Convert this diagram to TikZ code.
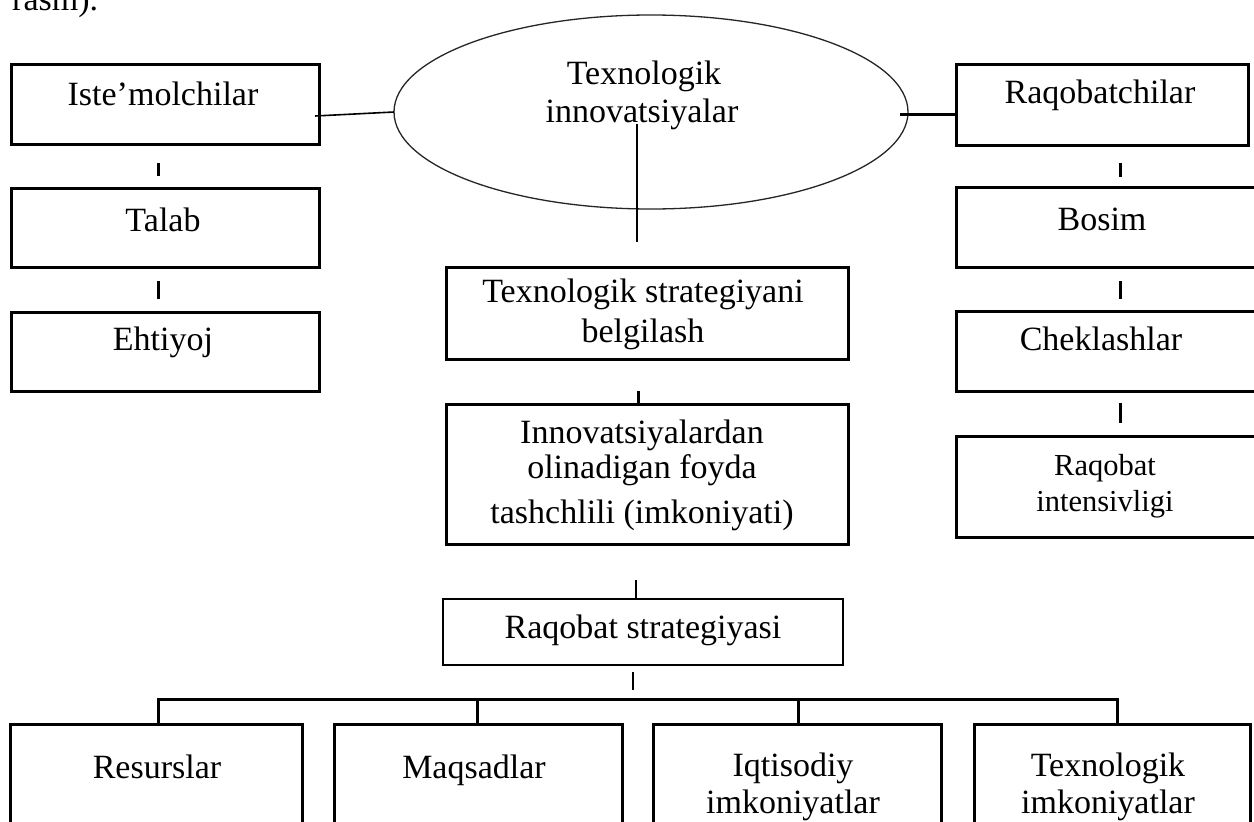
\documentclass[tikz,border=0pt]{standalone}
\usepackage{fontspec}
\setmainfont{Liberation Serif}
\usetikzlibrary{shapes.geometric}
\begin{document}
\begin{tikzpicture}[x=1pt,y=-1pt,
  box/.style={draw=black, line width=3pt, rectangle, inner sep=0pt, outer sep=0pt},
  thinbox/.style={draw=black, line width=1.6pt, rectangle, inner sep=0pt, outer sep=0pt},
  txt/.style={inner sep=0pt, anchor=base, font=\fontsize{34}{40}\selectfont},
  smalltxt/.style={inner sep=0pt, anchor=base, font=\fontsize{30.5}{36}\selectfont},
  tick/.style={draw=black, line width=3pt},
  thinline/.style={draw=black, line width=1.3pt},
  midline/.style={draw=black, line width=1.6pt}]
\useasboundingbox (0,0) rectangle (1254,822);
\fill[white] (0,0) rectangle (1254,822);

% cut-off text at the top
\node[txt, anchor=base west] (rasm) at (12,10) {rasm).};

% ellipse
\node[draw=black!85, line width=1.3pt, ellipse, minimum width=514pt, minimum height=194pt, inner sep=0pt, outer sep=0pt] (ell) at (651,112) {};
\node[txt] (ellt1) at (644,84) {Texnologik};
\node[txt] (ellt2) at (642,122) {innovatsiyalar};

% left column
\node[box, minimum width=308pt, minimum height=80pt] (ist) at (165,104) {};
\node[txt] (istt) at (163,105) {Iste’molchilar};
\node[box, minimum width=308pt, minimum height=79pt] (talab) at (165,227.5) {};
\node[txt] (talabt) at (163,231) {Talab};
\node[box, minimum width=308pt, minimum height=79pt] (eht) at (165,351.5) {};
\node[txt] (ehtt) at (163,350) {Ehtiyoj};

% right column
\node[box, minimum width=292pt, minimum height=81pt] (rq) at (1102,104.5) {};
\node[txt] (rqt) at (1100,103) {Raqobatchilar};
\node[box, minimum width=324pt, minimum height=80pt] (bosim) at (1118,227) {};
\node[txt] (bosimt) at (1102,230) {Bosim};
\node[box, minimum width=324pt, minimum height=80pt] (chek) at (1118,351) {};
\node[txt] (chekt) at (1101,350) {Cheklashlar};
\node[box, minimum width=324pt, minimum height=101pt] (rint) at (1118,486.5) {};
\node[smalltxt] (rintt1) at (1105,475) {Raqobat};
\node[smalltxt] (rintt2) at (1105,511) {intensivligi};

% centre column
\node[box, minimum width=402pt, minimum height=92pt] (ts) at (647,313) {};
\node[txt] (tst1) at (643,302) {Texnologik strategiyani};
\node[txt] (tst2) at (643,342) {belgilash};
\node[box, minimum width=402pt, minimum height=140pt] (inn) at (647,474) {};
\node[txt] (innt1) at (642,443) {Innovatsiyalardan};
\node[txt] (innt2) at (642,478) {olinadigan foyda};
\node[txt] (innt3) at (642,523) {tashchlili (imkoniyati)};
\node[thinbox, minimum width=400pt, minimum height=66pt] (rs) at (643,632) {};
\node[txt] (rst) at (643,638) {Raqobat strategiyasi};

% bottom row
\node[box, minimum width=292pt, minimum height=136pt] (b1) at (156,792) {};
\node[txt] (b1t) at (157,778) {Resurslar};
\node[box, minimum width=288pt, minimum height=136pt] (b2) at (478,792) {};
\node[txt] (b2t) at (474,778) {Maqsadlar};
\node[box, minimum width=288pt, minimum height=136pt] (b3) at (797,792) {};
\node[txt] (b3t1) at (793,776) {Iqtisodiy};
\node[txt] (b3t2) at (793,813) {imkoniyatlar};
\node[box, minimum width=276pt, minimum height=136pt] (b4) at (1112,792) {};
\node[txt] (b4t1) at (1108,776) {Texnologik};
\node[txt] (b4t2) at (1108,813) {imkoniyatlar};

% helper coordinates
\coordinate (tL) at (158,0);
\coordinate (tR) at (1120,0);
\coordinate (eL) at (637,0);
\coordinate (c1) at (638,0);
\coordinate (c2) at (636,0);
\coordinate (tC) at (633,699);
\coordinate (j1) at (158,699);
\coordinate (j2) at (477,699);
\coordinate (j3) at (798,699);
\coordinate (j4) at (1117,699);

% connectors from ellipse
\draw[midline] ([xshift=-4pt,yshift=-12pt]ist.east) -- (ell.west);
\draw[tick] ([xshift=-8pt,yshift=-2pt]ell.east) -- ([yshift=-9.5pt]rq.west);
\draw[thinline, shorten <=12pt, shorten >=25pt] (ell.center -| eL) -- (ts.north -| eL);

% left ticks
\draw[tick, shorten <=19pt, shorten >=12pt] (ist.south -| tL) -- (talab.north -| tL);
\draw[tick, shorten <=14pt, shorten >=13pt] (talab.south -| tL) -- (eht.north -| tL);

% right ticks
\draw[tick, shorten <=18pt, shorten >=10pt] (rq.south -| tR) -- (bosim.north -| tR);
\draw[tick, shorten <=14pt, shorten >=12pt] (bosim.south -| tR) -- (chek.north -| tR);
\draw[tick, shorten <=12pt, shorten >=13pt] (chek.south -| tR) -- (rint.north -| tR);

% centre ticks
\draw[tick, shorten <=32pt] (ts.south -| c1) -- (inn.north -| c1);
\draw[thinline, line width=1.8pt, shorten <=36pt] (inn.south -| c2) -- (rs.north -| c2);
\draw[thinline, line width=1.8pt, shorten <=7pt, shorten >=9pt] (rs.south -| tC) -- (tC);

% bottom tree
\draw[tick] (b1.north -| j1) -- (j1) -- (j4) -- (b4.north -| j4);
\draw[tick] (j2) -- (b2.north -| j2);
\draw[tick] (j3) -- (b3.north -| j3);
\end{tikzpicture}
\end{document}
